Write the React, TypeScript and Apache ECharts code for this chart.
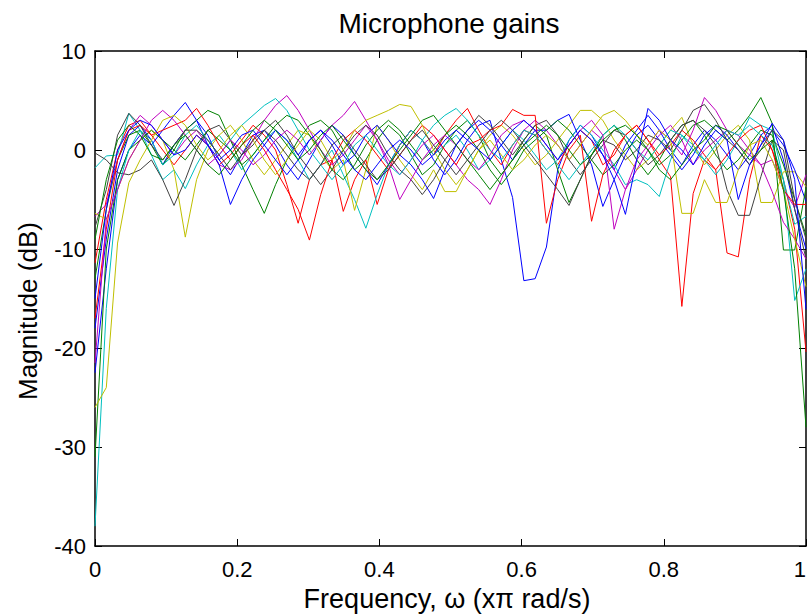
import React, { useEffect, useRef } from "react";
import * as echarts from "echarts";

const title = "Microphone gains";
const xName = "Frequency, \u03c9 (x\u03c0 rad/s)";
const yName = "Magnitude (dB)";
const xTicks = [0, 0.2, 0.4, 0.6, 0.8, 1];
const yTicks = [-40, -30, -20, -10, 0, 10];
const pointCount = 64;
const freq = Array.from({ length: pointCount }, (_, k) => k / (pointCount - 1));

const colors = ["#0000ff", "#008000", "#ff0000", "#00bfbf", "#bf00bf", "#bfbf00", "#404040"];

const mic1 = [-18, -9, -2, 1.5, 2.5, 1, -1.5, 0.5,
  2, 3, 1.5, -1, -2.5, -0.5, 1.5, 2,
  0.5, -1.5, -3, -1, 1, 2.5, 1.5, -0.5,
  -2, -3.5, -1.5, 0.5, 2, 1, -1, -2.5,
  -1, 1, 2.5, 3, -1, -4.8, -13.2, -13,
  -9.8, -2, 1, 2.5, 1.5, -0.5, -2, 0.5,
  2, 3.5, 2, 0, -1.5, 0.5, 2, 1,
  -0.5, -2, -0.5, 1.5, 2.5, -1, -6, -10];
const mic2 = [-13, -6, -1, 1.5, 2, 0.5, -1.5, 0,
  2, 3, 4, 3.5, 1, -1.5, -4, -6.4,
  -3.5, -1, 1, 2.5, 3, 2, 0, -2,
  -1, 1, 2.5, 1.5, -0.5, -2.5, -1.5, 0.5,
  2, 3, 1.5, -1, -2.5, -1, 1, 2.5,
  1.5, -2, -5.3, -3, -0.5, 1.5, 2.5, 1,
  -1, -2.5, -1, 1, 2.5, 3, 1.5, -0.5,
  -2, -1, 0.5, 2, 1.5, -1.5, -5, -8.6];
const mic3 = [-11.4, -5, 0, 2.5, 3, 1.5, 0, -1.5,
  0, 1.5, 0.5, -1.5, -0.5, 1, 2.5, 1.5,
  0, -3.5, -7.4, -3, -1.5, -1, -6.2, -3,
  -1, -5.5, -2, 0.5, 2, 1, -0.5, 1.5,
  3, 4.2, 2, 0, -1.5, 0.5, 2, 1.5,
  0, -1.5, 0.5, 2, 1, -1.5, -0.5, 1.5,
  2.5, 1, -1, -2.7, -15.8, -4.4, -1, -2,
  -10.4, -10.8, -3, 1.5, 0, -3, -8, -20.4];
const mic4 = [-1.8, -0.6, -0.5, 3.7, 2, -0.5, -3, -2,
  -3.9, -1.5, 0.5, 1.5, 0, -2, -0.5, 1,
  2, 1, -1, -3, -1.5, 0, -2.5, -5,
  -7.9, -4.5, -1.5, 0.5, 2, 1, -0.5, 0.5,
  1.5, 0, -2, -1, 0.5, 2, 1, -0.5,
  -2, -1, 1, 2.5, 1.5, 0, -1.5, -3.5,
  -3, -3.5, -4.7, -1, 1.5, 0.5, -1, -2.5,
  -1, 1, 3.3, 2.5, 2, -3, -7.5, -6.7];
const mic5 = [-6.7, -5.5, -1, 2, 3.5, 2.5, 1, -0.5,
  1, 2, 0.5, -1.5, -2, -1, 1, 3,
  4.5, 5.5, 4, 2, 0, -1.5, -0.5, 1,
  2.5, 1, -1, -2.5, -1, 0.5, 1.5, 0,
  -1.5, -3, -4, -5.5, -3, 0, 2, 3,
  2, 0.5, -1, 0.5, 2, 1, -2, -4,
  -2, 0, 1.5, 2.5, 1, -1.5, 0, 1,
  2, 1.5, 0, -1.5, -1, -4, -5.8, -2.5];
const mic6 = [-6.4, -7, -4, -1, 1, 2, 1, -2,
  -8.8, -3, 0, 1.5, 2.5, 1, -1, -2.5,
  -1, 0.5, 2, 1.5, -0.5, -2, -1, -6.1,
  -2, 2.5, 1, -1, -2.5, -4, -2, -4.2,
  -4.2, -2, 0, 1.5, 2.5, 1.5, 0, -1.5,
  -0.5, 1, 2.5, 4, 4, 3, 1, -0.5,
  -2, -1, 0.5, 2, 3.3, 0.5, -1.5, 0,
  1.5, 2.5, 1, -5.3, -5.3, -2.2, -2.2, -3.7];
const mic7 = [-0.3, -1, -2.3, -2.5, -2, -1, -3, -5.6,
  -3, 0, 2, 2.5, 1, -0.5, 0.5, 2,
  3, 1.5, -0.5, -2, -3.5, -2, 0, 1.5,
  2.5, 1.5, -0.5, -2, -3, -4.5, -3, -1,
  0.5, 2, 3.5, 2.5, 1, -0.5, 1, 2.5,
  3, 1.5, -1, -2.5, -1, 0.5, 2, 1.5,
  0, -1.5, -0.5, 1, 2.5, 3, 2, 0.5,
  -4, -6.6, -6.6, -2.7, 1, 0, -6, -11];
const mic8 = [-22.5, -12, -3, 0, 1.5, 0.5, 2, 3.5,
  4.8, 3, 0.5, -1.5, -5.5, -3, -1, 0.5,
  2, 1, -0.5, 1, 2, 0.5, -1.5, -0.5,
  1.5, 2.5, 1, -0.5, -1.5, -3, -4.9, -2,
  0.5, 2, 3, 2, 0.5, -1, 0.5, 2,
  2, 3, 3.6, 1, -1.5, -5.7, -3, -0.5,
  1.5, 2.5, 1, -0.5, -2, -0.5, 1.5, 2.5,
  1.5, 0, -1.5, 0.5, 2, 0.5, -2, -5.2];
const mic9 = [-31, -10, -3, 0, 1, 2, 1, 0,
  -1, 0.5, 2, 1, 0, -1.5, -0.5, 1,
  2.5, 3.5, 3, 1.5, 0, -2, -3, -1.5,
  0.5, 2, 3, 2, 0.5, -1, 0, 1.5,
  2.5, 1.5, 0, -2, -3.5, -2, 0, 1,
  2, 3, 2, 0.5, -1, -2.5, -1.5, 0,
  1, 0, -1.5, -0.5, 1, 2.5, 3, 2,
  1, 2, 3.5, 5.3, 2.7, -10.1, -10.1, -3.8];
const mic10 = [-17, -8, -1, 2, 2.5, 1.5, 2, 2.5,
  3, 4.2, 2.5, 0.5, -1, 0.5, 1.5, 0,
  -2, -4, -6, -9.1, -4.5, -1, 1, 2,
  1, -0.5, -2, -0.5, 1, 2.5, 1.5, 0,
  -1.5, 0.5, 1, 2, 2.5, 4.1, 3.5, 3.5,
  -7.4, -3, 0, 1.5, -7.2, -2.5, 0, 1.5,
  2.5, 1, -0.5, 0.5, 2, 1, -0.5, -2,
  -0.5, 1, 2, 2.5, 0, -4, -5.5, -5.5];
const mic11 = [-38, -16, -4, 0, 2, 1, -1.5, -0.5,
  1.5, 2.5, 1, -0.5, 1, 2.5, 3.5, 4.5,
  5.2, 4, 2, 0, -1.5, -3, -1.5, 0.5,
  1.5, 0, -1.5, -2.5, -1, 1, 2.5, 3.5,
  4.2, 3, 1.5, 0, -1, 0.5, 2, 1.5,
  0, -1.5, -3, -1.5, 0, 1.5, 2.5, 1.5,
  0, -1, 0.5, 2, 1.5, 0, -1, 0.5,
  2, 1.5, 2.5, 1.5, 0.5, -3, -15.2, -12];
const mic12 = [-21.5, -7, -4, -1, 1, 3, 4, 3,
  1.5, 0, -1.5, -0.5, 1, 0, -1.5, -0.5,
  1, 2, 1, -0.5, 1, 2.5, 3.5, 4.9,
  3, 1, -1.5, -5, -3, -1, 0.5, 1.5,
  0.5, -1, -2, -0.5, 1.5, 2.5, 3, 2,
  0.5, -1, 0.5, 2, 3, 1.5, -8, -4,
  -1, 0.5, 2, 1, -0.5, 2, 5.3, 4,
  2, 0.5, -0.5, -1.5, -4.2, -7.3, -9, -11];
const mic13 = [-26, -24, -9.4, -3.3, -1, 1, 3, 3.5,
  2.5, 0.5, -1, 0, 1.5, 2.5, 1, -1,
  -2.5, -1, 0.5, 2, 1, -1, 0, 2,
  3, 3.5, 4, 4.6, 4.4, 2.5, 0, -2,
  -3.5, -2, 0, 1, -0.5, -2, -1, 0.5,
  1.5, 0.5, -1, 0.5, 2, 3.5, 4, 3,
  1.5, 0.5, 2, 1, -6.4, -6.4, -3, -5.3,
  -5.3, -2, 0.5, 1, -1, -4, -9, -13.8];
const mic14 = [-7.8, -4, 1.5, 3.7, 2.5, 0.5, -1, 0.5,
  2, 2, 1, -0.5, -2, -0.5, 1, 2,
  1, -0.5, -2, -3, -1.5, 0.5, 1.5, 0,
  -1.5, -3, -2, -0.5, 1, 2, 0.5, -1,
  -2.5, -1, 0.5, 2, 3, 2, 0.5, -1,
  -2.5, -4, -5.6, -3, -0.5, 1, 0.5, -1,
  0, 1.5, 1, 0, 2, 4, 4.6, 3,
  1, 0, -1.5, 0, 2, 1, -5, -9];
const mic15 = [-15, -6, 0, 2, 3, 2.5, 1, -0.5,
  0, 1.5, 0.5, -1, 0, 1.5, 2, 0.5,
  -1, -2.5, -1, 1, 2, 1, -0.5, -2,
  -3, -1.5, 0, 1, 0, -1.5, -0.5, 1,
  2, 1, 0, -1, 0.5, 2, 3, 2,
  0.5, -1, 0.5, 2, 1, -0.5, -3, -6.5,
  -1, 4.2, 3, 1, 0, -1.5, 0.5, 2,
  1, -5, -1.5, 0.5, 2.7, 1, -3, -16.1];
const mic16 = [-9, -3, 1, 2.5, 1.5, -0.5, -1, 0.5,
  1.5, 0, -1.5, -2.5, -1, 0.5, 2, 3,
  2, 0.5, -1, 0, 1.5, 2.5, 1, -0.5,
  -2, -3, -1.5, 0, 1.5, 3, 3.5, 2,
  0.5, -1, -2.5, -4, -2.5, -1, 0.5, 1.5,
  2.5, 1.5, 0, -1.5, -0.5, 1, 2, 2.5,
  1.5, 0, -2, -3, -1.5, 0, 1, 2.5,
  2, 0.5, -1, 0, 1, -4, -12, -28];

const mics = [mic1, mic2, mic3, mic4, mic5, mic6, mic7, mic8, mic9, mic10, mic11, mic12, mic13, mic14, mic15, mic16];

const FONT = "'Liberation Sans', Arial, Helvetica, sans-serif";

export default function App() {
  const ref = useRef<HTMLDivElement>(null);
  useEffect(() => {
    if (!ref.current) return;
    const chart = echarts.init(ref.current, null, { renderer: "svg" });
    const axisLine = { show: true, onZero: false, lineStyle: { color: "#000", width: 1.5 } };
    const tick = { show: true, inside: true, length: 7, lineStyle: { color: "#000", width: 1 } };
    const xBase = {
      type: "value" as const,
      min: xTicks[0],
      max: xTicks[xTicks.length - 1],
      interval: 0.2,
      splitLine: { show: false },
      axisLine,
      axisTick: tick,
    };
    const yBase = {
      type: "value" as const,
      min: yTicks[0],
      max: yTicks[yTicks.length - 1],
      interval: 10,
      splitLine: { show: false },
      axisLine,
      axisTick: tick,
    };
    chart.setOption({
      animation: false,
      backgroundColor: "#fff",
      grid: { left: 95, top: 51, right: 3, bottom: 70, containLabel: false, outerBoundsMode: "none" },
      xAxis: [
        {
          ...xBase,
          position: "bottom",
          axisLabel: {
            margin: 12,
            color: "#000",
            fontSize: 22,
            fontFamily: FONT,
            alignMaxLabel: "right",
            formatter: (v: number) => String(Math.round(v * 10) / 10),
          },
        },
        { ...xBase, position: "top", axisLabel: { show: false } },
      ],
      yAxis: [
        {
          ...yBase,
          position: "left",
          axisLabel: { margin: 9, color: "#000", fontSize: 22, fontFamily: FONT },
        },
        { ...yBase, position: "right", axisLabel: { show: false } },
      ],
      graphic: [
        {
          type: "text",
          x: 449,
          y: 23,
          style: {
            text: title,
            font: `28px ${FONT}`,
            fill: "#000",
            textAlign: "center",
            textVerticalAlign: "middle",
          },
        },
        {
          type: "text",
          x: 447,
          y: 599,
          style: {
            text: xName,
            font: `27px ${FONT}`,
            fill: "#000",
            textAlign: "center",
            textVerticalAlign: "middle",
          },
        },
        {
          type: "text",
          x: 28,
          y: 311,
          rotation: Math.PI / 2,
          style: {
            text: yName,
            font: `26px ${FONT}`,
            fill: "#000",
            textAlign: "center",
            textVerticalAlign: "middle",
          },
        },
      ],
      series: mics.map((vals, i) => ({
        type: "line",
        xAxisIndex: 0,
        yAxisIndex: 0,
        data: vals.map((v, k) => [freq[k], v]),
        symbol: "none",
        silent: true,
        color: colors[i % colors.length],
        lineStyle: { width: 1, color: colors[i % colors.length] },
      })),
    });
    return () => chart.dispose();
  }, []);
  return (
    <div
      ref={ref}
      style={{ position: "absolute", left: 0, top: 0, width: 809, height: 616, background: "#fff" }}
    />
  );
}
